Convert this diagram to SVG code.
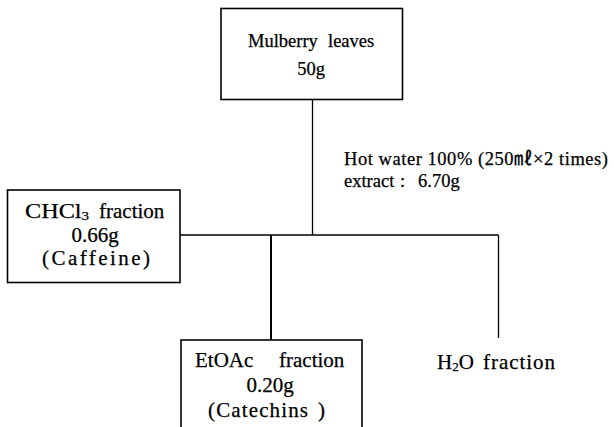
<svg xmlns="http://www.w3.org/2000/svg" width="614" height="427" viewBox="0 0 614 427">
<style>
  .box { fill: #fff; stroke: #000; stroke-width: 1.6; }
  .t { font-family: "Liberation Serif", "Noto Sans CJK KR", serif; font-size: 21px; fill: #000; stroke: #000; stroke-width: 0.25; }
  .s { font-size: 18.5px; }
  .m { text-anchor: middle; }
  .sub { font-size: 13px; }
  .ln { stroke: #000; stroke-width: 1.3; fill: none; }
  .thick { stroke: #000; stroke-width: 2; fill: none; }
</style>
<rect width="614" height="427" fill="#fff"/>
<g id="connectors">
  <line class="ln" x1="312.5" y1="99" x2="312.5" y2="235"/>
  <line class="ln" x1="180" y1="235" x2="498.5" y2="235"/>
  <line class="thick" x1="271" y1="235" x2="271" y2="340"/>
  <line class="ln" x1="498.5" y1="235" x2="498.5" y2="338"/>
</g>
<g id="mulberry">
  <rect class="box" x="221" y="8.5" width="181.5" height="91"/>
  <text class="t s" x="248" y="47">Mulberry</text>
  <text class="t s" x="328" y="47">leaves</text>
  <text class="t s m" x="311" y="75">50g</text>
</g>
<g id="extract-label">
  <text class="t s" x="344" y="165" textLength="264" lengthAdjust="spacing">Hot water 100% (250㎖×2 times)</text>
  <text class="t s" x="344" y="187">extract</text>
  <text class="t s" x="400" y="187">:</text>
  <text class="t s" x="418" y="187">6.70g</text>
</g>
<g id="chcl3">
  <rect class="box" x="7.5" y="190" width="172.5" height="92.5"/>
  <text class="t" x="25" y="218" textLength="64" lengthAdjust="spacingAndGlyphs">CHCl<tspan class="sub" dy="2">3</tspan></text>
  <text class="t" x="99" y="218">fraction</text>
  <text class="t m" x="95" y="242">0.66g</text>
  <text class="t m" x="96" y="265" textLength="108" lengthAdjust="spacing">(Caffeine)</text>
</g>
<g id="etoac">
  <rect class="box" x="181" y="340" width="181" height="100"/>
  <text class="t" x="195" y="367">EtOAc</text>
  <text class="t" x="279" y="367">fraction</text>
  <text class="t m" x="270" y="392">0.20g</text>
  <text class="t" x="208" y="417" textLength="100" lengthAdjust="spacing">(Catechins</text>
  <text class="t" x="318" y="417">)</text>
</g>
<g id="h2o">
  <text class="t" x="437" y="369">H<tspan class="sub" dy="2">2</tspan><tspan dy="-2">O</tspan></text>
  <text class="t" x="483" y="369" textLength="72" lengthAdjust="spacing">fraction</text>
</g>
</svg>
